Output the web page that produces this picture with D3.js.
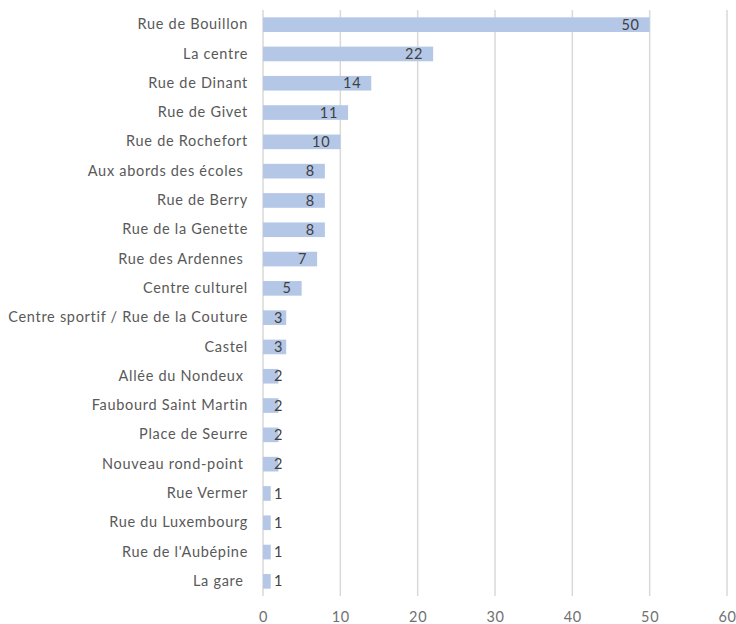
<!DOCTYPE html>
<html>
<head>
<meta charset="utf-8">
<script src="https://cdn.jsdelivr.net/npm/d3@7"></script>
<style>
  html, body { margin: 0; padding: 0; background: #fff; }
  svg { display: block; }
  text { font-family: Lato, "Open Sans", sans-serif; }
</style>
</head>
<body>
<svg id="chart" width="736" height="624"></svg>
<script>
// Lieux cités, du plus fréquent au moins fréquent
const categories = [
  "Rue de Bouillon", "La centre", "Rue de Dinant", "Rue de Givet",
  "Rue de Rochefort", "Aux abords des écoles ", "Rue de Berry",
  "Rue de la Genette", "Rue des Ardennes ", "Centre culturel",
  "Centre sportif / Rue de la Couture", "Castel", "Allée du Nondeux ",
  "Faubourd Saint Martin", "Place de Seurre", "Nouveau rond-point ",
  "Rue Vermer", "Rue du Luxembourg", "Rue de l'Aubépine", "La gare "
];
const values = [50, 22, 14, 11, 10, 8, 8, 8, 7, 5, 3, 3, 2, 2, 2, 2, 1, 1, 1, 1];
const xTicks = [0, 10, 20, 30, 40, 50, 60];

const svg = d3.select("#chart");
const margin = { left: 263, right: 9, top: 10, bottom: 28 };
const W = 736, H = 624;

const x = d3.scaleLinear().domain([0, 60]).range([margin.left, W - margin.right]);
const y = d3.scaleBand().domain(categories)
  .range([margin.top, H - margin.bottom]).paddingInner(0.5).paddingOuter(0.25);

// Vertical grid lines
svg.append("g")
  .selectAll("line")
  .data(xTicks)
  .join("line")
  .attr("x1", d => x(d)).attr("x2", d => x(d))
  .attr("y1", margin.top).attr("y2", H - margin.bottom)
  .attr("stroke", "#d9d9d9").attr("stroke-width", 1.5);

// Bars
const data = categories.map((c, i) => ({ c, v: values[i] }));
svg.append("g")
  .selectAll("rect")
  .data(data)
  .join("rect")
  .attr("x", x(0))
  .attr("y", d => y(d.c))
  .attr("width", d => x(d.v) - x(0))
  .attr("height", y.bandwidth())
  .attr("fill", "#b4c7e7");

// Value labels, near the end of each bar
svg.append("g")
  .selectAll("text")
  .data(data)
  .join("text")
  .attr("x", d => Math.max(x(d.v) - 10, x(0) + 20))
  .attr("y", d => y(d.c) + y.bandwidth() / 2)
  .attr("dy", "0.35em")
  .attr("text-anchor", "end")
  .attr("fill", "#404040")
  .attr("font-size", 14.5)
  .attr("letter-spacing", 0.7)
  .text(d => d.v);

// Category axis labels
const yAxis = d3.axisLeft(y).tickSize(0).tickPadding(15);
const gy = svg.append("g").attr("transform", `translate(${x(0)},0)`).call(yAxis);
gy.select(".domain").remove();
gy.selectAll("text")
  .attr("font-family", "Lato, 'Open Sans', sans-serif")
  .attr("font-size", 14.5)
  .attr("letter-spacing", 0.7)
  .attr("fill", "#595959")
  .style("white-space", "pre");

// Value axis labels
const xAxis = d3.axisBottom(x).tickValues(xTicks).tickSize(0).tickPadding(16);
const gx = svg.append("g").attr("transform", `translate(0,${H - margin.bottom})`).call(xAxis);
gx.select(".domain").remove();
gx.selectAll("text")
  .attr("font-family", "Lato, 'Open Sans', sans-serif")
  .attr("font-size", 14.5)
  .attr("letter-spacing", 0.7)
  .attr("fill", "#707070");
</script>
</body>
</html>
